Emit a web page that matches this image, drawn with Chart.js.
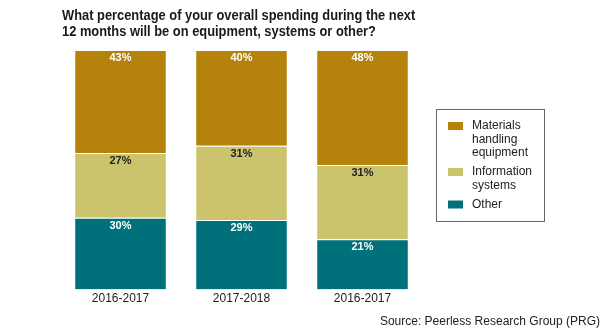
<!DOCTYPE html>
<html>
<head>
<meta charset="utf-8">
<script src="https://cdn.jsdelivr.net/npm/chart.js@4.4.0/dist/chart.umd.min.js"></script>
<style>
  html, body { margin: 0; padding: 0; background: #fff; }
  .wrap { position: relative; width: 612px; height: 336px; }
  .source {
    position: absolute; right: 12px; top: 314px;
    font: 12px "Liberation Sans", Arial, sans-serif; color: #222;
  }
</style>
</head>
<body>
<div class="wrap">
  <canvas id="chart" width="612" height="336"></canvas>
  <div class="source">Source: Peerless Research Group (PRG)</div>
</div>
<script>
const periods = ['2016-2017', '2017-2018', '2016-2017']
const materials = [43, 40, 48]
const infoSystems = [27, 31, 31]
const other = [30, 29, 21]
const seriesNames = {
  materials: ['Materials', 'handling', 'equipment'],
  info: ['Information', 'systems'],
  other: ['Other']
}
const titleLines = [
  'What percentage of your overall spending during the next',
  '12 months will be on equipment, systems or other?'
]

const FONT = '"Liberation Sans", Arial, Helvetica, sans-serif'

// two-line heading in a condensed bold face, left edge on the plot area
const heading = {
  id: 'heading',
  afterDraw(chart) {
    const ctx = chart.ctx
    ctx.save()
    ctx.translate(chart.chartArea.left + 2, 0)
    ctx.scale(0.858, 1)
    ctx.font = 'bold 15px ' + FONT
    ctx.fillStyle = '#1a1a1a'
    ctx.textBaseline = 'alphabetic'
    titleLines.forEach((line, i) => ctx.fillText(line, 0, 19.5 + i * 16))
    ctx.restore()
  }
}

// percentages written at the top of each segment
const valueLabels = {
  id: 'valueLabels',
  afterDatasetsDraw(chart) {
    const ctx = chart.ctx
    ctx.save()
    ctx.font = 'bold 11px ' + FONT
    ctx.textAlign = 'center'
    ctx.textBaseline = 'middle'
    chart.data.datasets.forEach((ds, i) => {
      chart.getDatasetMeta(i).data.forEach((bar, j) => {
        ctx.fillStyle = ds.labelColor
        ctx.fillText(ds.data[j] + '%', bar.x, bar.y + 8)
      })
    })
    ctx.restore()
  }
}

// boxed legend on the right, top series first
const boxLegend = {
  id: 'boxLegend',
  afterDraw(chart) {
    const ctx = chart.ctx
    const left = chart.chartArea.right + 13
    const top = 109
    const lineH = 13.5
    const gap = 5.5
    ctx.save()
    ctx.strokeStyle = '#666'
    ctx.lineWidth = 1
    ctx.strokeRect(left + 0.5, top + 0.5, 108, 112)
    ctx.font = '12px ' + FONT
    ctx.textBaseline = 'middle'
    let y = top + 17
    chart.data.datasets.slice().reverse().forEach(ds => {
      ctx.fillStyle = ds.backgroundColor
      ctx.fillRect(left + 12, y - 4, 15, 8)
      ctx.fillStyle = '#222'
      ds.label.forEach((line, k) => ctx.fillText(line, left + 36, y + k * lineH))
      y += ds.label.length * lineH + gap
    })
    ctx.restore()
  }
}

const segment = {
  borderColor: '#ffffff',
  borderWidth: { top: 1, right: 0, bottom: 0, left: 0 },
  borderSkipped: false
}

new Chart(document.getElementById('chart').getContext('2d'), {
  type: 'bar',
  data: {
    labels: periods,
    datasets: [
      { label: seriesNames.other, data: other, backgroundColor: '#00707a', labelColor: '#ffffff', ...segment },
      { label: seriesNames.info, data: infoSystems, backgroundColor: '#cbc46c', labelColor: '#222222', ...segment },
      { label: seriesNames.materials, data: materials, backgroundColor: '#b5820b', labelColor: '#ffffff', ...segment }
    ]
  },
  options: {
    responsive: false,
    devicePixelRatio: 1,
    animation: false,
    categoryPercentage: 1,
    barPercentage: 0.75,
    layout: { padding: { left: 60, right: 189, top: 50, bottom: 28 } },
    plugins: {
      legend: { display: false },
      tooltip: { enabled: false },
      title: { display: false }
    },
    scales: {
      x: {
        stacked: true,
        grid: { display: false, drawTicks: false },
        border: { display: false },
        ticks: { color: '#222', font: { family: FONT, size: 12 }, padding: 2 }
      },
      y: { stacked: true, display: false, min: 0, max: 100 }
    }
  },
  plugins: [valueLabels, boxLegend, heading]
})
</script>
</body>
</html>
